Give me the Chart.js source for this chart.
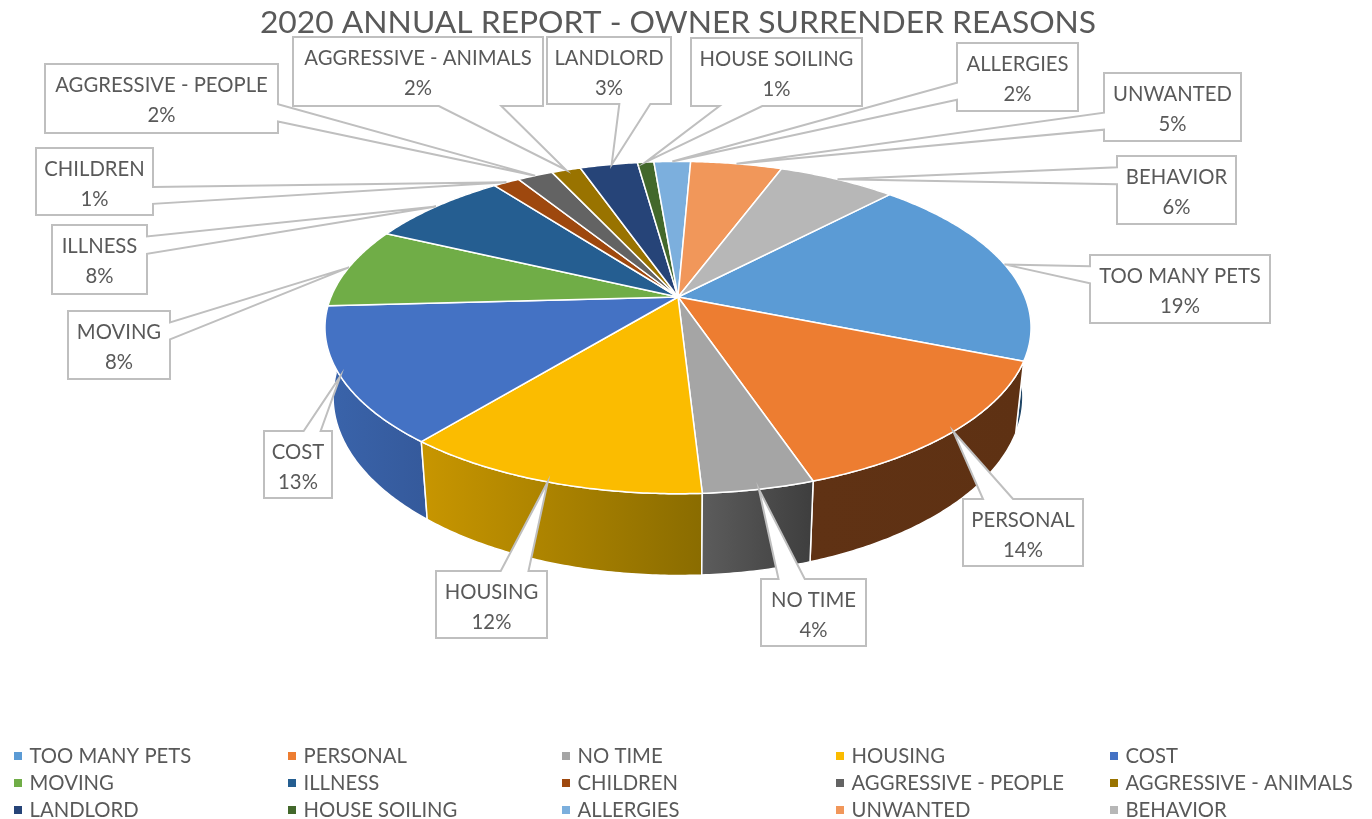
<!DOCTYPE html>
<html>
<head>
<meta charset="utf-8">
<script src="https://cdn.jsdelivr.net/npm/chart.js@4/dist/chart.umd.min.js"></script>
<style>html,body{margin:0;padding:0;background:#fff}canvas{display:block}</style>
</head>
<body>
<canvas id="c" width="1372" height="819"></canvas>
<script>
const categories = ['TOO MANY PETS','PERSONAL','NO TIME','HOUSING','COST','MOVING','ILLNESS','CHILDREN','AGGRESSIVE - PEOPLE','AGGRESSIVE - ANIMALS','LANDLORD','HOUSE SOILING','ALLERGIES','UNWANTED','BEHAVIOR'];
const shares = [18.95,13.7,4.3,11.85,13.2,7.85,7.65,1.45,1.95,1.6,3.15,0.9,2.0,5.0,6.45];
const topColors = ['#5b9bd5','#ed7d31','#a5a5a5','#fbbc00','#4472c4','#70ad47','#255e91','#9e480e','#636363','#997300','#264478','#43682b','#7cafdd','#f1975a','#b7b7b7'];
const wallLeft = ['#255078','#603214','#5c5c5c','#c89600','#3a64ab','#3e6128','#173a5a','#5f2b08','#3b3b3b','#5c4500','#172948','#283e1a','#4a6985','#915b36','#6e6e6e'];
const wallRight = ['#1f4464','#5e3113','#3e3e3e','#8a6c00','#355a9c','#3e6128','#173a5a','#5f2b08','#3b3b3b','#5c4500','#172948','#283e1a','#4a6985','#915b36','#6e6e6e'];
// [left, top, right, bottom] of each data-label callout box, same order as categories
const calloutBoxes = [[1090,255,1270,323],[963,499,1083,566],[761,579,866,646],[436,571,547,638],[264,431,332,498],[68,311,170,379],[52,225,147,294],[36,148,153,215],[45,64,278,133],[293,37,543,106],[547,37,671,104],[691,38,862,106],[957,43,1078,111],[1104,73,1241,141],[1117,156,1236,224]];
const calloutTipShiftX = [0,0,0,0,0,0,0,0,0,0,3,0,0,0,0];
const legendColumns = 5, legendX = 14, legendDX = 274, legendY = 756, legendDY = 27;

const TEXT = '#595959', LINE = '#bfbfbf', FONT = 'Lato, Carlito, sans-serif', LABEL_PX = 20.3;
// perspective view of the pie's disc
const view = {cy:297, a:347, b:160.5, k:-0.184, sx:0.977, sy:1.075, dy:67};

function project(cx, ang){
  const u = Math.cos(ang), v = Math.sin(ang), w = 1 + view.k*v;
  return {x:view.a*u/w, y:view.b*v/w};
}
function arcPoints(s, e){
  const n = Math.max(2, Math.ceil((e-s)/0.01)), pts = [];
  for(let i=0;i<=n;i++) pts.push(project(0, s+(e-s)*i/n));
  return pts;
}
function drawCallout(ctx, box, tip, l1, l2){
  const [x0,y0,x1,y1] = box, w=x1-x0, h=y1-y0, mx=(x0+x1)/2, my=(y0+y1)/2;
  const dx=tip.x-mx, dy=tip.y-my;
  const path=[[x0,y0]];
  const vert = Math.abs(dy) > Math.abs(dx*h/w);
  const g1 = (vert?dx:dy)>0 ? 7/12 : 2/12, g2 = (vert?dx:dy)>0 ? 10/12 : 5/12;
  if(vert && dy<0) path.push([x0+w*g1,y0],[tip.x,tip.y],[x0+w*g2,y0]);
  path.push([x1,y0]);
  if(!vert && dx>0) path.push([x1,y0+h*g1],[tip.x,tip.y],[x1,y0+h*g2]);
  path.push([x1,y1]);
  if(vert && dy>0) path.push([x0+w*g2,y1],[tip.x,tip.y],[x0+w*g1,y1]);
  path.push([x0,y1]);
  if(!vert && dx<0) path.push([x0,y0+h*g2],[tip.x,tip.y],[x0,y0+h*g1]);
  ctx.beginPath();
  path.forEach((p,i)=> i?ctx.lineTo(p[0],p[1]):ctx.moveTo(p[0],p[1]));
  ctx.closePath();
  ctx.fillStyle='#fff'; ctx.fill();
  ctx.strokeStyle=LINE; ctx.lineWidth=2; ctx.lineJoin='miter'; ctx.stroke();
  ctx.fillStyle=TEXT; ctx.font=LABEL_PX+'px '+FONT; ctx.textAlign='center'; ctx.textBaseline='middle';
  ctx.fillText(l1,mx,y0+21.5);
  ctx.fillText(l2,mx,y0+51);
}
const pie3d = {
  id:'pie3d',
  beforeDatasetsDraw(chart){
    const ctx=chart.ctx, meta=chart.getDatasetMeta(0), els=meta.data;
    const cx=els[0].x, cy=view.cy;
    const total=shares.reduce((a,b)=>a+b,0);
    ctx.save();
    ctx.translate(cx,cy);
    // side walls, far ones first
    const order=els.map((e,i)=>i).sort((p,q)=>Math.sin((els[p].startAngle+els[p].endAngle)/2)-Math.sin((els[q].startAngle+els[q].endAngle)/2));
    order.forEach(i=>{
      const e=els[i], pts=arcPoints(e.startAngle,e.endAngle);
      const low=pts.map(p=>({x:p.x*view.sx,y:p.y*view.sy+view.dy}));
      const xs=pts.map(p=>p.x), xa=Math.min(...xs), xb=Math.max(...xs);
      const g=ctx.createLinearGradient(xa,0,xb,0);
      g.addColorStop(0,wallLeft[i]); g.addColorStop(1,wallRight[i]);
      ctx.beginPath();
      pts.forEach((p,j)=>j?ctx.lineTo(p.x,p.y):ctx.moveTo(p.x,p.y));
      low.reverse().forEach(p=>ctx.lineTo(p.x,p.y));
      ctx.closePath();
      ctx.fillStyle=g; ctx.fill();
      ctx.strokeStyle='#fff'; ctx.lineWidth=1.5; ctx.lineJoin='round'; ctx.stroke();
    });
    // top face
    els.forEach((e,i)=>{
      const pts=arcPoints(e.startAngle,e.endAngle);
      ctx.beginPath(); ctx.moveTo(0,0);
      pts.forEach(p=>ctx.lineTo(p.x,p.y));
      ctx.closePath();
      ctx.fillStyle=topColors[i]; ctx.fill();
      ctx.strokeStyle='#fff'; ctx.lineWidth=1.5; ctx.lineJoin='round'; ctx.stroke();
    });
    ctx.restore();
    // data-label callouts
    els.forEach((e,i)=>{
      const t=project(0,(e.startAngle+e.endAngle)/2);
      drawCallout(ctx,calloutBoxes[i],{x:cx+t.x+calloutTipShiftX[i],y:cy+t.y},categories[i],Math.round(shares[i]/total*100)+'%');
    });
    // legend
    ctx.font=LABEL_PX+'px '+FONT; ctx.textAlign='left'; ctx.textBaseline='middle';
    categories.forEach((c,i)=>{
      const col=i%legendColumns, row=Math.floor(i/legendColumns);
      const x=legendX+col*legendDX, y=legendY+row*legendDY;
      ctx.fillStyle=topColors[i]; ctx.fillRect(x,y-4,8,8);
      ctx.fillStyle=TEXT; ctx.fillText(c,x+15.5,y);
    });
    return false;
  }
};
new Chart(document.getElementById('c'),{
  type:'pie',
  data:{labels:categories,datasets:[{data:shares,backgroundColor:topColors}]},
  options:{
    responsive:false,animation:false,
    rotation:43.7,
    layout:{padding:{right:16}},
    plugins:{
      legend:{display:false},tooltip:{enabled:false},
      title:{display:true,text:'2020 ANNUAL REPORT - OWNER SURRENDER REASONS',color:TEXT,font:{family:FONT,size:31.8,weight:'normal'},padding:{top:4,bottom:6}}
    }
  },
  plugins:[pie3d]
});
</script>
</body>
</html>
